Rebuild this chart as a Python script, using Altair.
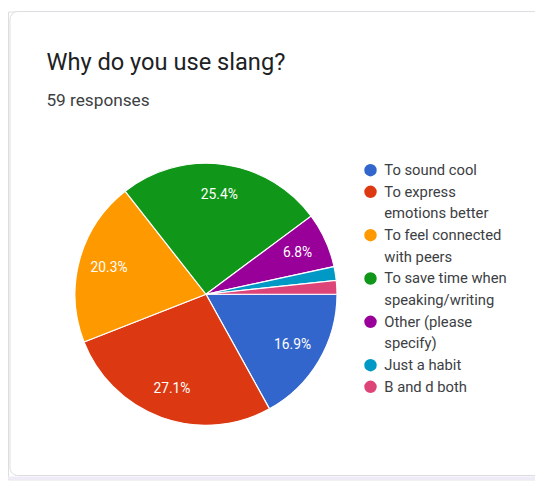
import math
import altair as alt
import pandas as pd

# ---- data ----
categories = [
    "To sound cool",
    "To express emotions better",
    "To feel connected with peers",
    "To save time when speaking/writing",
    "Other (please specify)",
    "Just a habit",
    "B and d both",
]
counts = [10, 16, 12, 15, 4, 1, 1]
colors = ["#3366cc", "#dc3912", "#ff9900", "#109618", "#990099", "#0099c6", "#dd4477"]
legend_lines = [
    ["To sound cool"],
    ["To express", "emotions better"],
    ["To feel connected", "with peers"],
    ["To save time when", "speaking/writing"],
    ["Other (please", "specify)"],
    ["Just a habit"],
    ["B and d both"],
]
title_text = "Why do you use slang?"
subtitle_text = "59 responses"

FONT = "Roboto"

pie_df = pd.DataFrame({"category": categories, "count": counts, "order": list(range(len(categories)))})

rows = []
line_idx = 0
for cat, lines in zip(categories, legend_lines):
    for j, ln in enumerate(lines):
        rows.append({"category": cat, "line": ln, "row": line_idx, "first": j == 0})
        line_idx += 1
legend_df = pd.DataFrame(rows)

color_scale = alt.Scale(domain=categories, range=colors)
theta_scale = alt.Scale(range=[math.pi / 2, math.pi / 2 + 2 * math.pi])

CX, CY, R = 201, 287, 133

# card
card = alt.Chart(pd.DataFrame({"k": [0]})).mark_rect(
    fill="white", stroke="#dadce0", strokeWidth=1, cornerRadius=8
).encode(x=alt.value(2), x2=alt.value(560), y=alt.value(0), y2=alt.value(471))

bottom = alt.Chart(pd.DataFrame({"k": [0]})).mark_rect(fill="#f0ebf8").encode(
    x=alt.value(0), x2=alt.value(535), y=alt.value(472), y2=alt.value(475)
)

title = alt.Chart(pd.DataFrame({"t": [title_text]})).mark_text(
    align="left", baseline="alphabetic", fontSize=24, font=FONT, color="#202124"
).encode(text="t:N", x=alt.value(39), y=alt.value(59))

subtitle = alt.Chart(pd.DataFrame({"t": [subtitle_text]})).mark_text(
    align="left", baseline="alphabetic", fontSize=17.5, font=FONT, color="#3c4043"
).encode(text="t:N", x=alt.value(39), y=alt.value(96))

base = alt.Chart(pie_df).encode(
    theta=alt.Theta("count:Q", stack=True, scale=theta_scale),
    order=alt.Order("order:Q"),
)

arcs = base.mark_arc(outerRadius=R, stroke="white", strokeWidth=1.2).encode(
    color=alt.Color("category:N", scale=color_scale, legend=None),
    x=alt.value(CX),
    y=alt.value(CY),
)

labels = base.transform_joinaggregate(total="sum(count)").transform_calculate(
    label="datum.count / datum.total >= 0.05 ? format(datum.count / datum.total, '.1%') : ''",
).mark_text(radius=102, fontSize=14, font=FONT, color="white").encode(
    text="label:N", x=alt.value(CX), y=alt.value(CY)
)

y_leg = alt.Y("row:Q", scale=alt.Scale(domain=[0, 10], range=[161, 381]), axis=None)

leg_dots = alt.Chart(legend_df).transform_filter("datum.first").mark_circle(
    size=160, opacity=1
).encode(
    x=alt.value(368),
    y=y_leg,
    color=alt.Color("category:N", scale=color_scale, legend=None),
)

leg_text = alt.Chart(legend_df).mark_text(
    align="left", baseline="middle", fontSize=15, font=FONT, color="#3c4043"
).encode(x=alt.value(382), y=y_leg, text="line:N")

chart = alt.layer(card, bottom, title, subtitle, arcs, labels, leg_dots, leg_text).properties(
    width=535, height=475, padding=0, autosize=alt.AutoSizeParams(type="none")
).configure_view(stroke=None).configure(background="white")

chart.save("out.html", embed_options={"renderer": "svg", "actions": False})
